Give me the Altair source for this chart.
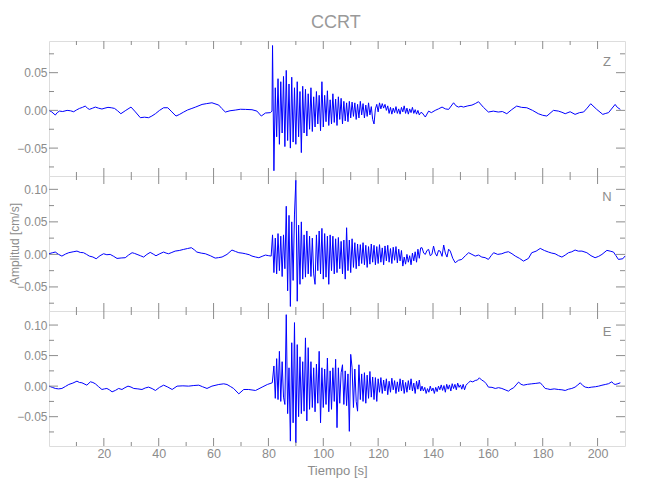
import altair as alt
import pandas as pd

# ---------------- data ----------------
# times in s, amplitudes in 10^-3 cm/s
X_MAJOR = [20, 40, 60, 80, 100, 120, 140, 160, 180, 200]
X_MINOR = [10, 30, 50, 70, 90, 110, 130, 150, 170, 190]

# ---- Z component ----
Z_PRE_T = [0.0, 1.0, 2.3, 3.0, 3.8, 5.0, 6.6, 7.8, 9.0, 10.0, 11.1, 12.2, 13.2, 14.0, 14.7, 15.8,
           16.9, 18.0, 19.3, 20.4, 21.5, 22.7, 23.9, 25.0, 26.2, 28.0, 29.9, 31.5, 33.3, 34.8,
           36.3, 37.5, 38.8, 40.3, 41.8, 43.3, 44.8, 46.3, 47.5, 49.1, 50.5, 52.1, 53.5, 55.8,
           57.5, 59.4, 61.9, 63.0, 64.3, 66.0, 67.9, 69.8, 71.6, 74.0, 75.8, 77.4, 78.9, 80.7, 81.3]
Z_PRE_V = [0.0, -2.0, -6.2, -3.0, -0.9, -1.5, 0.0, -0.5, -1.8, 0.5, 2.6, 4.0, 5.7, 3.0, 1.3, 2.8,
           4.4, 3.0, 1.8, 3.0, 4.0, 3.5, 2.6, -0.5, -4.4, 0.0, 4.4, -2.0, -9.7, -9.0,
           -9.7, -7.5, -4.4, 0.0, 3.5, 3.5, -2.0, -7.5, -5.5, -2.2, 0.5, 2.6, 4.5, 7.9,
           9.0, 10.1, 7.0, 2.5, -2.2, -0.5, 0.4, 1.5, 1.3, 0.9, -0.9, -7.5, -3.5, -3.0, -1.0]
Z_STRONG_T0 = 81.5   # sampled every 0.5 s
Z_STRONG_V = [86, -80, 30, -35, 42, -45, 38, -30, 45, -48,
              53, -40, 35, -50, 44, -42, 30, -45, 38, -35,
              25, -56, 32, -30, 28, -34, 22, -25, 30, -28,
              18, -22, 25, -18, 20, -27, 38, -22, 20, -15,
              26, -20, 14, -18, 22, -16, 15, -20, 18, -12,
              16, -18, 12, -14, 10, -15, 12, -10, 11, -8,
              10, -12, 8, -10, 12, -6, 9, -10, 7, -8,
              10, -6, 5, -12, -18, 2, 8, -2, 10, 2,
              9, 3, 8, 0, 6, -4, 4, -5, 3, -3,
              5, -4, 2, -5, 4, -2, 6, -4, 3, -5,
              2, -3, 4, -4, 1, -5, 0, -6, -3]
Z_POST_T = [136.0, 137.2, 138.4, 139.4, 140.8, 142.0, 143.3, 144.5, 145.7, 147.5, 148.4, 149.3,
            150.2, 151.1, 152.7, 154.2, 155.4, 156.6, 158.4, 160.2, 162.0, 163.8, 165.3, 166.9,
            168.7, 170.5, 172.3, 174.2, 176.3, 178.4, 180.0, 181.5, 183.9, 185.7, 187.0, 188.2,
            190.0, 191.8, 193.4, 194.9, 196.2, 197.5, 199.7, 201.9, 203.0, 204.0, 206.4, 207.2, 208.3]
Z_POST_V = [-3.0, -8.8, -1.0, -3.0, 0.0, 2.0, 4.4, 2.0, 1.3, 10.1, 6.0, 4.4,
            5.5, 4.4, 6.0, 7.0, 9.0, 11.5, 4.0, -2.2, -1.0, -2.2, -1.5, -4.4,
            1.0, 5.7, 4.0, 3.5, 0.0, -4.4, -6.5, -7.5, 0.0, -0.9, -2.5, -4.4,
            -1.8, -5.3, -3.0, -2.2, 3.0, 8.8, 1.3, -5.3, -4.0, -3.0, 7.9, 4.0, 1.3]

# ---- N component ----
N_PRE_T = [0.0, 1.2, 2.3, 3.5, 4.7, 6.0, 7.2, 8.8, 10.2, 11.4, 12.6, 13.7, 14.7, 16.0, 17.2,
           18.6, 19.9, 21.1, 22.3, 23.6, 24.8, 26.3, 27.8, 29.0, 30.3, 31.2, 32.1, 33.3, 34.5,
           35.7, 36.9, 38.0, 39.0, 40.4, 41.8, 42.7, 43.6, 44.8, 46.0, 47.5, 49.1, 50.5, 51.9,
           53.0, 53.9, 55.5, 57.0, 58.8, 60.6, 61.8, 63.1, 64.9, 66.7, 68.0, 69.2, 70.4, 71.6,
           73.0, 74.0, 75.3, 76.5, 77.7, 78.9, 80.1, 81.0]
N_PRE_V = [1.0, 2.5, 3.6, 0.0, -2.6, 0.5, 2.6, 4.0, 5.1, 3.0, 2.6, 0.0, -2.6, -4.0, -6.7,
           -2.0, 1.0, -0.5, 0.0, -3.0, -6.2, -5.5, -5.1, -1.0, 2.6, 1.5, 0.0, -2.0, -4.1,
           0.0, 3.1, 0.5, -2.1, 1.0, 3.6, 2.0, 1.0, 3.0, 5.1, 6.0, 7.7, 9.0, 10.3,
           7.0, 3.6, 2.0, 1.0, -2.0, -5.7, -5.0, -4.0, 0.0, 6.7, 4.5, 2.6, 2.0, 1.0,
           -0.5, -2.6, -4.0, -5.1, -3.0, -1.0, -2.0, -2.6]
N_STRONG_T0 = 81.5   # sampled every 0.5 s
N_STRONG_V = [30, -28, 25, -30, 32, -25, 28, -34, 30, -22,
              74, -56, 60, -80, 50, -40, 62, 114, -72, 45,
              -46, 50, -38, 30, -35, 36, -30, 28, -34, 25,
              -30, -46, 30, -25, 36, -30, 40, -38, 32, -35,
              28, -46, 30, -25, 28, -30, 24, -28, 26, -22,
              20, -30, 22, -38, 41, -25, 22, -28, 24, -20,
              18, -22, 16, -18, 15, -14, 18, -16, 14, -20,
              12, -15, 16, -12, 14, -16, 12, -14, 15, -12,
              10, -16, 13, -10, 14, -12, 9, -14, 11, -9,
              12, -13, 8, -10, 6, -18, -4, -15, 0, -12,
              -2, -16, 2, -10, 4, -12, 8, -6, 10]
N_POST_T = [136.0, 136.6, 137.2, 137.8, 138.4, 139.0, 139.6, 140.2, 140.8, 141.4, 142.0, 142.6,
            143.3, 143.9, 144.5, 145.1, 145.7, 146.3, 147.2, 148.1, 149.3, 150.5, 151.8, 153.0,
            154.2, 155.4, 156.6, 157.8, 159.0, 160.2, 161.2, 162.1, 163.6, 165.1, 166.3, 167.5,
            168.8, 170.0, 171.5, 173.0, 174.8, 176.0, 177.6, 179.1, 180.6, 182.1, 183.3, 184.5,
            185.8, 187.0, 188.2, 189.4, 190.6, 191.8, 193.0, 194.3, 196.1, 197.6, 199.1, 200.4,
            201.6, 203.4, 204.6, 205.8, 206.7, 207.6, 209.2, 210.0]
N_POST_V = [10.3, 2.0, 0.0, 6.0, 7.7, -2.0, 0.0, 12.8, 2.0, -2.6, 6.0, 5.1,
            -3.0, 14.4, 2.0, -4.1, 8.0, 5.1, -6.0, -12.8, -9.0, -7.7, -2.0, 2.6,
            0.0, -2.6, -1.0, -4.1, -5.0, -7.7, -2.0, 2.6, 0.0, 1.0, 3.0, 4.1,
            1.0, -2.6, -6.0, -10.3, -6.2, 2.6, 5.0, 9.2, 6.0, 3.6, 2.0, 1.0,
            -2.0, -4.1, -1.0, 2.6, 4.0, 6.7, 5.0, 5.1, 2.6, -2.0, -5.1, -3.0,
            0.0, 6.2, 5.0, 3.6, -2.0, -7.7, -6.7, -2.6]

# ---- E component ----
E_PRE_T = [0.0, 1.2, 2.3, 3.5, 4.7, 6.0, 7.2, 8.7, 10.2, 11.1, 12.0, 13.8, 15.1, 16.0, 16.9,
           18.1, 19.3, 20.2, 21.1, 22.0, 23.0, 24.2, 25.4, 26.6, 27.7, 28.8, 29.9, 30.9, 32.4,
           33.9, 35.1, 36.3, 37.6, 38.8, 40.3, 41.8, 43.3, 44.9, 46.7, 48.8, 50.9, 52.8, 54.6,
           56.0, 57.6, 59.4, 61.9, 63.7, 64.9, 66.1, 67.3, 69.2, 71.0, 72.8, 75.3, 77.7, 79.6, 81.4]
E_PRE_V = [0.0, -2.0, -3.8, -4.5, -3.8, -0.5, 2.7, 5.0, 8.2, 6.0, 5.5, 1.6, 7.1, 6.0, 3.8,
           -1.0, -5.5, -4.5, -3.8, -6.0, -9.3, -7.0, -3.8, -5.5, -2.5, 0.0, -1.5, -3.8, -4.5,
           -5.5, -3.0, -1.6, -4.0, -7.1, -2.0, 1.6, -1.5, -5.5, 0.0, 0.5, 0.0, 1.0, 1.6,
           -1.0, -3.8, 0.0, 2.7, 3.8, 2.7, -0.5, -3.8, -12.6, -5.5, -5.5, -7.1, -1.6, 2.7, 5.5]
E_STRONG_T0 = 82.0   # sampled every 0.5 s
E_STRONG_V = [33, -20, 45, -22, 57, -25, 40, -18, -30, 117,
              -45, 30, -90, 71, -60, 104, -93, 68, -50, 48,
              -45, 40, -41, 79, -57, 63, -38, 40, -35, 30,
              -42, 36, -28, 57, -60, 30, -35, 28, -30, 46,
              -42, 25, -38, 30, -25, 44, -68, 30, -28, 22,
              35, -30, 25, -32, 20, -74, 52, 30, -35, 28,
              -25, -41, 35, -22, 20, -25, 22, -28, 18, -20,
              24, -18, 15, -22, 14, -25, 12, -10, 14, -12,
              10, -8, 12, -14, 8, -10, 13, -6, 9, -12,
              7, -9, 12, -8, 10, -12, 6, -10, 9, -6,
              12, -8, 5, -12, 8, -5, 10, -8]
E_POST_T = [136.0, 136.5, 137.0, 137.5, 138.0, 138.5, 139.0, 139.5, 140.0, 140.5, 141.0, 141.5,
            142.0, 142.5, 143.0, 143.5, 144.0, 144.5, 145.0, 145.5, 146.0, 146.5, 147.0, 147.5,
            148.0, 148.5, 149.0, 149.5, 150.0, 150.5, 151.0, 151.5, 152.0, 152.5, 153.0, 153.6,
            154.5, 155.4, 156.2, 156.9, 157.7, 158.5, 159.4, 160.2, 161.5, 162.7, 163.9, 165.1,
            166.3, 167.5, 168.4, 169.4, 170.3, 171.2, 172.1, 173.0, 174.5, 176.0, 177.5, 179.1,
            180.0, 180.9, 181.8, 182.7, 184.2, 185.7, 187.0, 188.2, 189.4, 190.6, 191.8, 192.8,
            193.7, 194.6, 195.5, 196.7, 197.9, 199.2, 200.4, 201.6, 202.8, 204.0, 205.2, 205.8,
            206.4, 207.4, 208.3]
E_POST_V = [0.0, -8.0, -2.0, -12.0, -4.0, -10.0, 0.0, -8.0, -3.0, -12.0, -2.0, -9.0,
            0.0, -6.0, 2.0, -7.0, 1.0, -10.0, 3.0, -5.0, 2.0, -8.0, 4.0, -4.0,
            3.0, -6.0, 5.0, -2.0, 2.0, -5.0, 3.0, -6.0, 1.0, 4.0, 6.0, 8.2,
            7.0, 9.3, 10.0, 13.7, 10.0, 8.2, 4.0, -1.6, -2.0, -3.8, -2.5, -3.8,
            -6.0, -8.2, -5.0, -2.7, 2.0, 6.6, 3.0, 1.6, 3.0, 3.8, 4.5, 5.5,
            1.0, -3.8, -4.5, -5.5, -4.5, -5.5, -6.0, -7.1, -5.0, -3.8, -1.6, 2.0,
            5.5, 1.0, -1.6, -2.5, -1.6, -1.0, 0.0, 1.5, 2.7, 4.0, 7.1, 4.0,
            2.7, 4.0, 5.5]

# y-axis domains and tick values per panel (cm/s)
Z_DOMAIN = [-0.087, 0.092]
N_DOMAIN = [-0.087, 0.1205]
E_DOMAIN = [-0.098, 0.123]
Z_MAJOR = [-0.05, 0.0, 0.05]
NE_MAJOR = [-0.05, 0.0, 0.05, 0.10]
Y_MINOR = [-0.075, -0.025, 0.025, 0.075]

# ---------------- styling ----------------
W, H = 576, 135
GRAY = "#8c8c8c"
FONT = "Liberation Sans"
LINE = "#0000ff"
MAJ, MIN = 9, 5


def series(pre_t, pre_v, t0, strong_v, post_t, post_v):
    t = list(pre_t) + [t0 + 0.5 * i for i in range(len(strong_v))] + list(post_t)
    v = [x * 1e-3 for x in list(pre_v) + list(strong_v) + list(post_v)]
    return pd.DataFrame({"t": t, "v": v})


def panel(df, label, ydom, major, show_x=False, ytitle=None):
    xs = alt.Scale(domain=[0, 210], nice=False, zero=False)
    ys = alt.Scale(domain=ydom, nice=False, zero=False)

    xkw = dict(values=X_MAJOR, ticks=False, domain=False, grid=False, labels=show_x,
               labelColor=GRAY, labelFont=FONT, labelFontSize=12.5,
               labelPadding=1, labelFlush=False, titleColor=GRAY, titleFont=FONT,
               titleFontSize=13, titleFontWeight="normal", titlePadding=5)
    xkw["title"] = "Tiempo  [s]" if show_x else ""
    xenc = alt.X("t:Q", scale=xs, axis=alt.Axis(**xkw))

    ykw = dict(values=major, format=".2f", ticks=False, domain=False, grid=False,
               labelColor=GRAY, labelFont=FONT, labelFontSize=12, labelPadding=2,
               labelFlush=False, titleColor=GRAY, titleFont=FONT, titleFontSize=12,
               titleFontWeight="normal", titlePadding=-5)
    ykw["title"] = ytitle if ytitle else ""
    yenc = alt.Y("v:Q", scale=ys, axis=alt.Axis(**ykw))

    layers = [alt.Chart(df).mark_line(color=LINE, strokeWidth=1).encode(x=xenc, y=yenc)]

    ymaj = pd.DataFrame({"v": major})
    ymin = pd.DataFrame({"v": Y_MINOR})
    for d, ln in ((ymaj, MAJ), (ymin, MIN)):
        for x0, x1 in ((0, ln), (W - ln, W)):
            layers.append(alt.Chart(d).mark_rule(color=GRAY, strokeWidth=1).encode(
                y=yenc, x=alt.value(x0), x2=alt.value(x1)))
    xmaj = pd.DataFrame({"t": X_MAJOR})
    xmin = pd.DataFrame({"t": X_MINOR})
    for d, ln in ((xmaj, 8), (xmin, 4)):
        for y0, y1 in ((0, ln), (H - ln, H)):
            layers.append(alt.Chart(d).mark_rule(color=GRAY, strokeWidth=1).encode(
                x=xenc, y=alt.value(y0), y2=alt.value(y1)))
    lab = alt.Chart(pd.DataFrame({"c": [label]})).mark_text(
        font=FONT, fontSize=13, color=GRAY, align="center", baseline="middle"
    ).encode(x=alt.value(558), y=alt.value(21), text="c:N")
    layers.append(lab)
    return alt.layer(*layers).properties(width=W, height=H)


z_df = series(Z_PRE_T, Z_PRE_V, Z_STRONG_T0, Z_STRONG_V, Z_POST_T, Z_POST_V)
n_df = series(N_PRE_T, N_PRE_V, N_STRONG_T0, N_STRONG_V, N_POST_T, N_POST_V)
e_df = series(E_PRE_T, E_PRE_V, E_STRONG_T0, E_STRONG_V, E_POST_T, E_POST_V)

chart = alt.vconcat(
    panel(z_df, "Z", Z_DOMAIN, Z_MAJOR),
    panel(n_df, "N", N_DOMAIN, NE_MAJOR, ytitle="Amplitud  [cm/s]"),
    panel(e_df, "E", E_DOMAIN, NE_MAJOR, show_x=True),
    spacing=0,
    bounds="flush",
).properties(
    title=alt.TitleParams("CCRT", font=FONT, fontSize=18, fontWeight="normal",
                          color="#999999", offset=8, anchor="middle", dx=18),
    padding={"left": 0, "top": 6, "right": 5, "bottom": 5},
).configure_view(stroke=GRAY, strokeWidth=1).configure(background="white")

chart.save("out.html", embed_options={"renderer": "svg", "actions": False})
